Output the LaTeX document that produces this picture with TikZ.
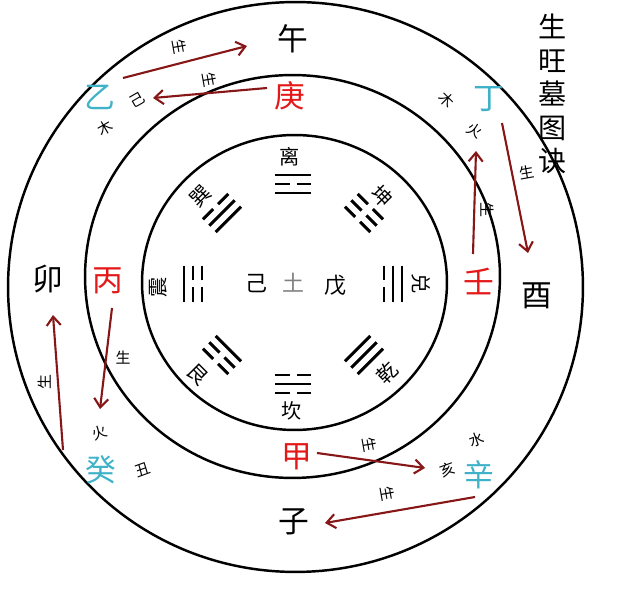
\documentclass[tikz,border=0pt]{standalone}
\usepackage{fontspec}
\newfontfamily\cjk{Noto Sans CJK SC}
\usepackage{xcolor}
\usepackage{tikz}
\usetikzlibrary{arrows.meta}

\definecolor{ganred}{RGB}{228,24,24}
\definecolor{gancyan}{RGB}{64,178,200}
\definecolor{arrowred}{RGB}{135,22,22}

\tikzset{
  zhi/.style={font=\cjk\fontsize{17.5}{17.5}\selectfont, inner sep=0pt},
  yang/.style={zhi, text=ganred},
  yin/.style={zhi, text=gancyan},
  gualbl/.style={font=\cjk\fontsize{11.5}{12}\selectfont, inner sep=0pt},
  smalllbl/.style={font=\cjk\fontsize{8.5}{8.5}\selectfont, inner sep=0pt},
  yao/.style={line width=1.7pt},
  link/.style={-{Straight Barb[length=5pt, width=8pt]}, arrowred, line width=1.2pt},
  ring/.style={line width=1.4pt},
}

% one trigram: x, y, rotation, lines from outer to inner (1 solid, 0 broken)
\newcommand{\gua}[4]{%
  \begin{scope}[shift={(#1,#2)}, rotate=#3]
    \foreach \b [count=\i] in {#4} {
      \pgfmathsetmacro{\yy}{(\i-2)*9}
      \ifnum\b=1
        \draw[yao] (-18,\yy) -- (18,\yy);
      \else
        \draw[yao] (-18,\yy) -- (-3.5,\yy) (3.5,\yy) -- (18,\yy);
      \fi
    }
  \end{scope}}

\begin{document}
\begin{tikzpicture}[x=0.02cm, y=-0.02cm]
  \useasboundingbox (0,0) rectangle (640,594);

  % rings
  \draw[ring] (295.5,287) ellipse [x radius=5.75cm, y radius=5.70cm];
  \draw[ring] (292.5,276.5) ellipse [x radius=4.15cm, y radius=4.03cm];
  \draw[ring] (294.5,282.5) ellipse [x radius=3.05cm, y radius=2.95cm];

  % title
  \node (title) [font=\cjk\fontsize{16}{19}\selectfont, align=center, inner sep=0pt]
    at (553,94) {生\\旺\\墓\\图\\诀};

  % branches
  \node[zhi] (wu) at (293,39) {午};
  \node[zhi] (mao) at (48,279) {卯};
  \node[zhi] (you) at (537,296) {酉};
  \node[zhi] (zi) at (294,522) {子};

  % yang stems
  \node[yang] (geng) at (290,96) {庚};
  \node[yang] (bing) at (108,281) {丙};
  \node[yang] (ren) at (479,281) {壬};
  \node[yang] (jia) at (297,457) {甲};

  % yin stems
  \node[yin] (yi) at (100,97) {乙};
  \node[yin] (ding) at (489,99) {丁};
  \node[yin] (gui) at (101,470) {癸};
  \node[yin] (xin) at (479,475) {辛};

  % centre
  \node[gualbl, font=\cjk\fontsize{12.5}{12.5}\selectfont] (ji) at (256,284) {己};
  \node[gualbl, font=\cjk\fontsize{12.5}{12.5}\selectfont, text=gray] (tu) at (293,283) {土};
  \node[gualbl, font=\cjk\fontsize{12.5}{12.5}\selectfont] (wuu) at (335,285) {戊};

  % trigrams
  \gua{293}{184}{0}{1,0,1}
  \gua{364}{213}{-45}{0,0,0}
  \gua{393}{284}{-90}{1,1,0}
  \gua{364}{355}{-135}{1,1,1}
  \gua{293}{384}{180}{0,1,0}
  \gua{222}{355}{135}{0,0,1}
  \gua{193}{284}{90}{1,0,0}
  \gua{222}{213}{45}{0,1,1}

  \node[gualbl] (li) at (290,157) {离};
  \node[gualbl, rotate=-45] (kun) at (382,196) {坤};
  \node[gualbl, rotate=-90] (dui) at (421,284) {兑};
  \node[gualbl, rotate=45] (qian) at (387,373) {乾};
  \node[gualbl] (kan) at (292,411) {坎};
  \node[gualbl, rotate=-45] (gen) at (198,375) {艮};
  \node[gualbl, rotate=90] (zhen) at (158,287) {震};
  \node[gualbl, rotate=45] (xun) at (200,196) {巽};

  % small marks
  \node[smalllbl, rotate=-80] (m1) at (180,47) {生};
  \node[smalllbl, rotate=-80] (m2) at (210,80) {生};
  \node[smalllbl, rotate=30] (m3) at (137,100) {己};
  \node[smalllbl, rotate=30] (m4) at (105,128) {木};
  \node[smalllbl, rotate=-45] (m5) at (447,100) {木};
  \node[smalllbl, rotate=-30] (m6) at (475,130) {火};
  \node[smalllbl, rotate=10] (m7) at (527,172) {生};
  \node[smalllbl, rotate=-90] (m8) at (487,210) {生};
  \node[smalllbl] (m9) at (123,358) {生};
  \node[smalllbl, rotate=90] (m10) at (45,382) {生};
  \node[smalllbl, rotate=20] (m11) at (100,433) {火};
  \node[smalllbl, rotate=20] (m12) at (143,470) {丑};
  \node[smalllbl, rotate=-80] (m13) at (370,445) {生};
  \node[smalllbl, rotate=20] (m14) at (477,440) {水};
  \node[smalllbl, rotate=20] (m15) at (448,470) {亥};
  \node[smalllbl, rotate=-80] (m16) at (388,494) {生};

  % arrows
  \draw[link] ([shift={(23,-19)}]yi.center) -- ([shift={(-46,7)}]wu.center);
  \draw[link] ([shift={(-23,-8)}]geng.center) -- ([shift={(53,1)}]yi.center);
  \draw[link] ([shift={(13,24)}]ding.center) -- ([shift={(-9,-43)}]you.center);
  \draw[link] ([shift={(-6,-27)}]ren.center) -- ([shift={(-13,52)}]ding.center);
  \draw[link] ([shift={(4,27)}]bing.center) -- ([shift={(-1,-61)}]gui.center);
  \draw[link] ([shift={(-38,-20)}]gui.center) -- ([shift={(5,36)}]mao.center);
  \draw[link] ([shift={(20,-4)}]jia.center) -- ([shift={(-54,-7)}]xin.center);
  \draw[link] ([shift={(-4,22)}]xin.center) -- ([shift={(31,1)}]zi.center);
\end{tikzpicture}
\end{document}
